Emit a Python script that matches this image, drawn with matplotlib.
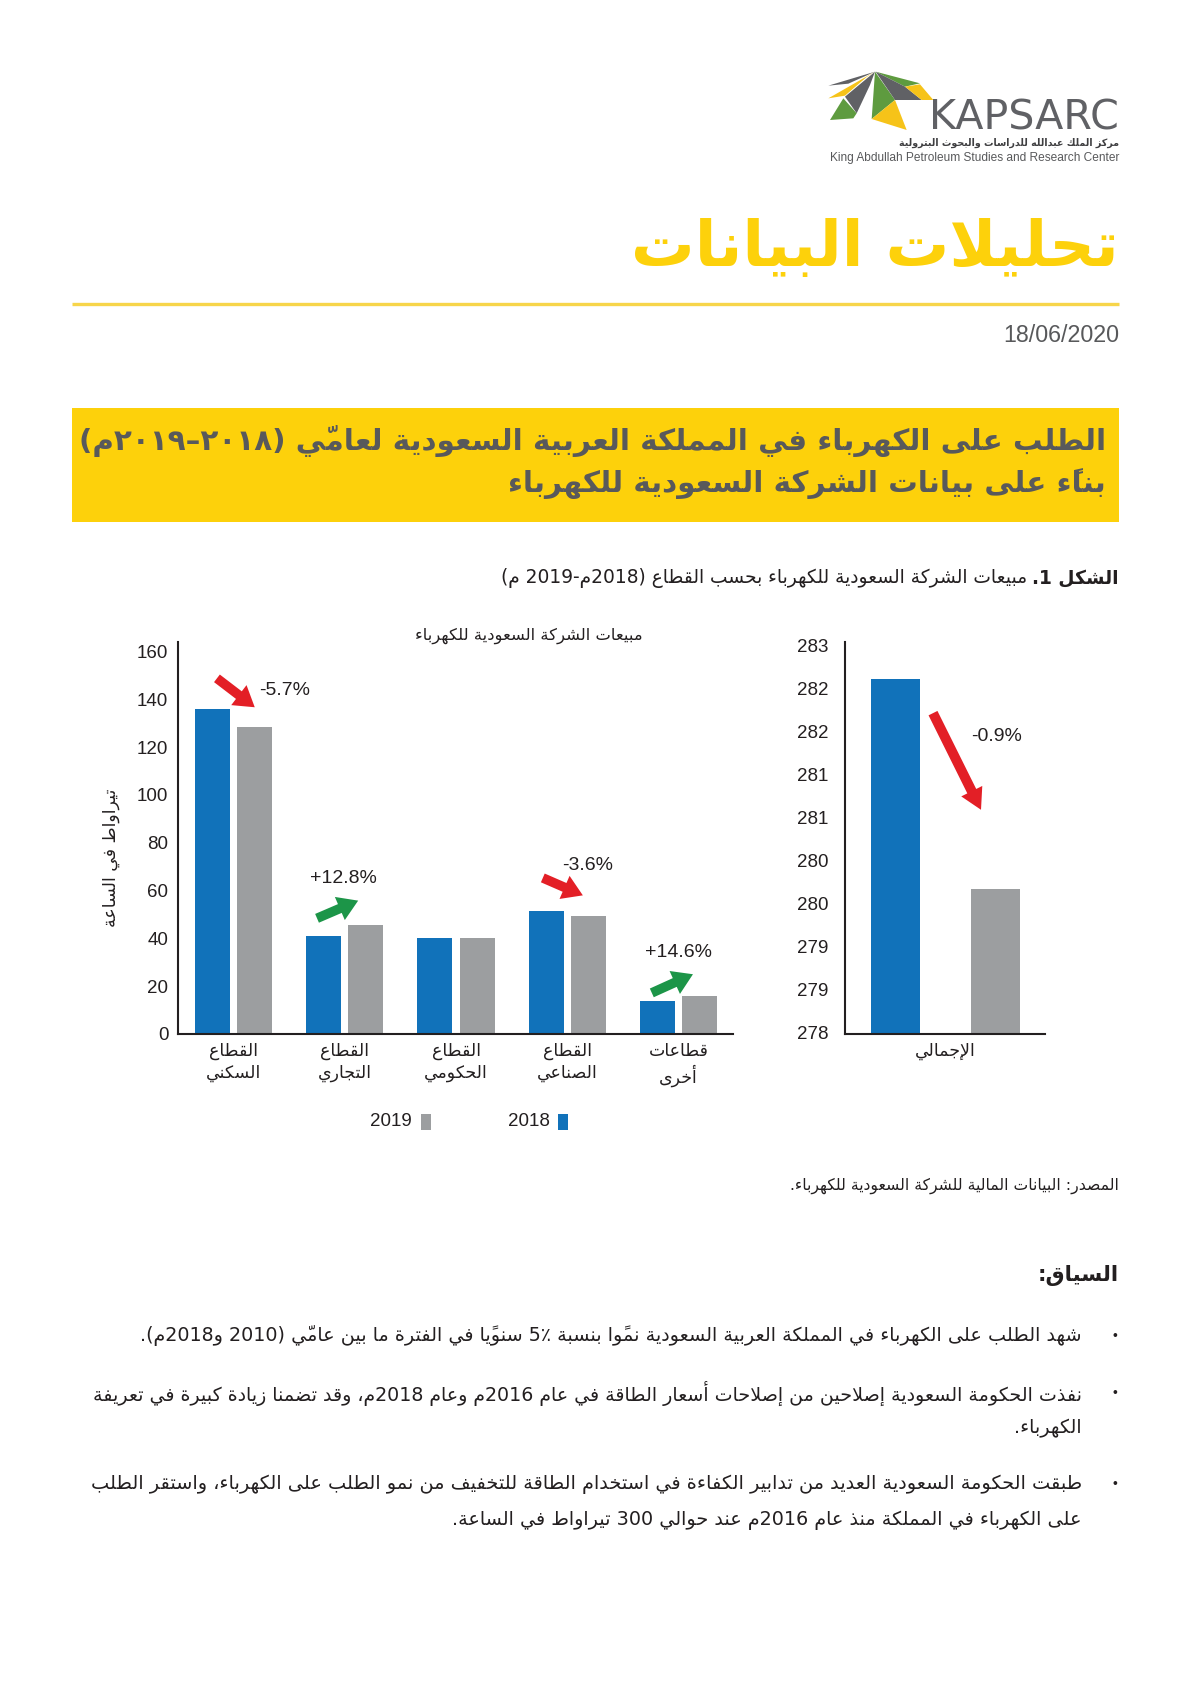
import matplotlib
matplotlib.use('Agg')
import matplotlib.pyplot as plt
import numpy as np
from matplotlib.patches import Rectangle, Polygon, FancyArrowPatch

# ---------------- data ----------------
sectors = ['القطاع\nالسكني', 'القطاع\nالتجاري', 'القطاع\nالحكومي', 'القطاع\nالصناعي', 'قطاعات\nأخرى']
sales_2018 = [136.1, 41.0, 40.0, 51.5, 13.9]
sales_2019 = [128.3, 45.8, 40.0, 49.5, 16.0]
change_labels = ['-5.7%', '+12.8%', None, '-3.6%', '+14.6%']
left_ticks = [0, 20, 40, 60, 80, 100, 120, 140, 160]
total_label = 'الإجمالي'
total_2018 = 282.57
total_2019 = 279.86
total_change = '-0.9%'
right_tick_values = list(np.linspace(278, 283, 10))
right_tick_labels = ['278', '279', '279', '280', '280', '281', '281', '282', '282', '283']
years = ['2018', '2019']

page_title = 'تحليلات البيانات'
date_text = '18/06/2020'
banner_lines = ['الطلب على الكهرباء في المملكة العربية السعودية لعاميّ (٢٠١٨–٢٠١٩م)',
                'بناءً على بيانات الشركة السعودية للكهرباء']
caption_bold = 'الشكل 1.'
caption_text = 'مبيعات الشركة السعودية للكهرباء بحسب القطاع (2018م-2019 م)'
chart_title = 'مبيعات الشركة السعودية للكهرباء'
y_label = 'تيراواط في الساعة'
source_text = 'المصدر: البيانات المالية للشركة السعودية للكهرباء.'
context_title = 'السياق:'
bullets = [
    ['شهد الطلب على الكهرباء في المملكة العربية السعودية نموًا بنسبة 5٪ سنويًا في الفترة ما بين عاميّ (2010 و2018م).'],
    ['نفذت الحكومة السعودية إصلاحين من إصلاحات أسعار الطاقة في عام 2016م وعام 2018م، وقد تضمنا زيادة كبيرة في تعريفة',
     'الكهرباء.'],
    ['طبقت الحكومة السعودية العديد من تدابير الكفاءة في استخدام الطاقة للتخفيف من نمو الطلب على الكهرباء، واستقر الطلب',
     'على الكهرباء في المملكة منذ عام 2016م عند حوالي 300 تيراواط في الساعة.'],
]
logo_name = 'KAPSARC'
logo_ar = 'مركز الملك عبدالله للدراسات والبحوث البترولية'
logo_en = 'King Abdullah Petroleum Studies and Research Center'

# ---------------- Arabic shaping + simple bidi ----------------
_F = {0x0621: (0xFE80, None, None, None), 0x0622: (0xFE81, 0xFE82, None, None),
      0x0623: (0xFE83, 0xFE84, None, None), 0x0624: (0xFE85, 0xFE86, None, None),
      0x0625: (0xFE87, 0xFE88, None, None), 0x0627: (0xFE8D, 0xFE8E, None, None),
      0x0629: (0xFE93, 0xFE94, None, None), 0x062F: (0xFEA9, 0xFEAA, None, None),
      0x0630: (0xFEAB, 0xFEAC, None, None), 0x0631: (0xFEAD, 0xFEAE, None, None),
      0x0632: (0xFEAF, 0xFEB0, None, None), 0x0648: (0xFEED, 0xFEEE, None, None),
      0x0649: (0xFEEF, 0xFEF0, None, None)}
for _c, _b in [(0x0626, 0xFE89), (0x0628, 0xFE8F), (0x062A, 0xFE95), (0x062B, 0xFE99),
               (0x062C, 0xFE9D), (0x062D, 0xFEA1), (0x062E, 0xFEA5), (0x0633, 0xFEB1),
               (0x0634, 0xFEB5), (0x0635, 0xFEB9), (0x0636, 0xFEBD), (0x0637, 0xFEC1),
               (0x0638, 0xFEC5), (0x0639, 0xFEC9), (0x063A, 0xFECD), (0x0641, 0xFED1),
               (0x0642, 0xFED5), (0x0643, 0xFED9), (0x0644, 0xFEDD), (0x0645, 0xFEE1),
               (0x0646, 0xFEE5), (0x0647, 0xFEE9), (0x064A, 0xFEF1)]:
    _F[_c] = (_b, _b + 1, _b + 2, _b + 3)
_LA = {0x0622: (0xFEF5, 0xFEF6), 0x0623: (0xFEF7, 0xFEF8), 0x0625: (0xFEF9, 0xFEFA), 0x0627: (0xFEFB, 0xFEFC)}


def _mark(c):
    o = ord(c)
    return 0x064B <= o <= 0x065F or o == 0x0670 or 0x0610 <= o <= 0x061A


def _jn(c):
    o = ord(c)
    return o == 0x0640 or (o in _F and _F[o][2] is not None)


def _jp(c):
    o = ord(c)
    return o == 0x0640 or (o in _F and _F[o][1] is not None)


def shape(s):
    ch = list(s)
    n = len(ch)
    out = []
    i = 0
    while i < n:
        c = ch[i]
        o = ord(c)
        if o not in _F:
            out.append(c)
            i += 1
            continue
        j = i - 1
        while j >= 0 and _mark(ch[j]):
            j -= 1
        cp = j >= 0 and _jn(ch[j]) and _F[o][1] is not None
        k = i + 1
        while k < n and _mark(ch[k]):
            k += 1
        nxt = ch[k] if k < n else None
        if o == 0x0644 and nxt is not None and ord(nxt) in _LA:
            out.append(chr(_LA[ord(nxt)][1 if cp else 0]))
            out.extend(ch[i + 1:k])
            i = k + 1
            continue
        cn = nxt is not None and _jp(nxt) and _jn(c)
        f = _F[o]
        if cp and cn:
            g = f[3]
        elif cp:
            g = f[1]
        elif cn:
            g = f[2]
        else:
            g = f[0]
        out.append(chr(g))
        i += 1
    return ''.join(out)


def _type(c):
    o = ord(c)
    if '0' <= c <= '9' or 0x0660 <= o <= 0x0669 or 0x06F0 <= o <= 0x06F9:
        return 'EN'
    if c.isascii() and c.isalpha():
        return 'L'
    if (0x0600 <= o <= 0x06FF and o not in (0x060C, 0x066A, 0x066B, 0x066C)) or 0xFB50 <= o <= 0xFDFF or 0xFE70 <= o <= 0xFEFF:
        return 'R'
    return 'N'


_MIR = {'(': ')', ')': '(', '[': ']', ']': '[', '{': '}', '}': '{', '<': '>', '>': '<'}


def bidi(s):
    n = len(s)
    t = [_type(c) for c in s]
    for i in range(1, n - 1):
        if t[i] == 'N' and s[i] in '.,/:-+' and t[i - 1] == 'EN' and t[i + 1] == 'EN':
            t[i] = 'EN'
    for i in range(n):
        if s[i] in '%\u066A':
            if (i > 0 and t[i - 1] == 'EN') or (i + 1 < n and t[i + 1] == 'EN'):
                t[i] = 'EN'
    r = t[:]
    i = 0
    while i < n:
        if r[i] == 'N':
            j = i
            while j < n and r[j] == 'N':
                j += 1
            lt = ('L' if r[i - 1] == 'L' else 'R') if i > 0 else 'R'
            rt = ('L' if r[j] == 'L' else 'R') if j < n else 'R'
            d = lt if lt == rt else 'R'
            for k in range(i, j):
                r[k] = d
            i = j
        else:
            i += 1
    runs = []
    for c, d in zip(s, r):
        d2 = 'R' if d == 'R' else 'L'
        if runs and runs[-1][0] == d2:
            runs[-1][1].append(c)
        else:
            runs.append([d2, [c]])
    out = []
    for d, cs in reversed(runs):
        if d == 'R':
            clusters = []
            for c in cs:
                if _mark(c) and clusters:
                    clusters[-1] += c
                else:
                    clusters.append(_MIR.get(c, c))
            out.append(''.join(reversed(clusters)))
        else:
            out.append(''.join(cs))
    return ''.join(out)


def ar(s):
    return '\n'.join(bidi(shape(line)) for line in s.split('\n'))


# ---------------- figure ----------------
W, H = 1191, 1684
fig = plt.figure(figsize=(W / 100, H / 100), dpi=100)
bg = fig.add_axes([0, 0, 1, 1])
bg.set_xlim(0, W)
bg.set_ylim(H, 0)
bg.axis('off')
REN = fig.canvas.get_renderer()

AR = ['DejaVu Sans']
LAT = ['Liberation Sans', 'DejaVu Sans']
DARK = '#58595B'
INK = '#231F20'
YEL = '#FDD10B'
BLUE = '#1172BA'
GRAY = '#9C9EA0'
RED = '#E31F26'
GREEN = '#1C9548'
RM = 1119   # right margin
LM = 72     # left margin


def fitw(t, w):
    bb = t.get_window_extent(renderer=REN)
    t.set_fontsize(t.get_fontsize() * w / bb.width)
    return t


# logo (decorative shapes)
def lp(pts):
    return [(825 + px / 3.0, 65 + py / 3.0) for px, py in pts]

LG, LY, LN = '#606165', '#F6C319', '#5E9B3F'
logo_shapes = [
    ([(10, 62), (150, 20), (70, 56)], LG),
    ([(10, 100), (150, 20), (125, 36), (60, 92)], LY),
    ([(150, 20), (60, 95), (95, 145), (135, 60)], LG),
    ([(55, 100), (15, 165), (85, 160), (95, 145)], LN),
    ([(150, 20), (140, 162), (210, 105)], LN),
    ([(140, 162), (210, 105), (245, 195)], LY),
    ([(152, 20), (285, 55), (240, 65)], LN),
    ([(152, 20), (240, 65), (290, 105), (210, 105)], LG),
    ([(240, 65), (285, 58), (325, 105), (290, 105)], LY),
]
for pts, col in logo_shapes:
    bg.add_patch(Polygon(lp(pts), closed=True, facecolor=col, edgecolor='none'))
t = bg.text(RM, 118, logo_name, ha='right', va='center', fontsize=22, color='#606165',
            family=['DejaVu Sans'])
fitw(t, 190)
t = bg.text(RM, 143, ar(logo_ar), ha='right', va='center', fontsize=9, color='#3f3f41',
            family=AR, fontweight='bold')
fitw(t, 222)
t = bg.text(RM, 158, logo_en, ha='right', va='center', fontsize=9, color=DARK, family=LAT)
fitw(t, 290)

# title + rule + date
t = bg.text(RM, 249, ar(page_title), ha='right', va='center', fontsize=40, color=YEL,
            family=AR, fontweight='bold')
fitw(t, 487)
bg.plot([LM, RM], [304, 304], color='#F7D54A', lw=2.4, solid_capstyle='butt')
t = bg.text(RM, 335, date_text, ha='right', va='center', fontsize=15, color=DARK, family=LAT)
fitw(t, 117)

# banner
bg.add_patch(Rectangle((LM, 408), RM - LM, 114, facecolor=YEL, edgecolor='none'))
t1 = bg.text(1106, 441, ar(banner_lines[0]), ha='right', va='center', fontsize=20, color=DARK,
             family=AR, fontweight='bold')
fitw(t1, 1022)
bg.text(1106, 484, ar(banner_lines[1]), ha='right', va='center', fontsize=t1.get_fontsize(),
        color=DARK, family=AR, fontweight='bold')

# caption
tb = bg.text(RM, 578, ar(caption_bold), ha='right', va='center', fontsize=14, color=INK,
             family=AR, fontweight='bold')
tr = bg.text(1000, 578, ar(caption_text), ha='right', va='center', fontsize=14, color=INK,
             family=AR)
wb = tb.get_window_extent(renderer=REN).width
wr = tr.get_window_extent(renderer=REN).width
sc = 623 / (wb + wr + 6)
tb.set_fontsize(14 * sc)
tr.set_fontsize(14 * sc)
wb = tb.get_window_extent(renderer=REN).width
tr.set_x(RM - wb - 6 * sc)

# ---------------- left chart ----------------
axb, axt = (H - 1034) / H, (H - 642) / H
ax = fig.add_axes([178 / W, axb, (733 - 178) / W, axt - axb])
x = np.arange(len(sectors))
ax.bar(x - 0.19, sales_2018, 0.315, color=BLUE, zorder=2)
ax.bar(x + 0.19, sales_2019, 0.315, color=GRAY, zorder=2)
ax.set_xlim(-0.5, 4.49)
ax.set_ylim(0, 164)
ax.set_yticks(left_ticks)
ax.set_yticklabels([str(v) for v in left_ticks], family=LAT, fontsize=13.5, color=INK)
ax.set_xticks(x)
ax.set_xticklabels([ar(s) for s in sectors], family=AR, fontsize=12.5, color=INK,
                   linespacing=1.25)
ax.tick_params(axis='y', length=0, pad=7)
ax.tick_params(axis='x', length=0, pad=6)
for sp in ['top', 'right']:
    ax.spines[sp].set_visible(False)
for sp in ['left', 'bottom']:
    ax.spines[sp].set_linewidth(1.5)
    ax.spines[sp].set_color(INK)
ax.patch.set_alpha(0)

# change arrows (layout offsets relative to the 2019 bar centre / top)
arrow_layout = {0: dict(tip=(0.0, 8.4), tail=(-0.34, 12.1), lab=(0.27, 7.1)),
                1: dict(tip=(-0.07, 10), tail=(-0.37, -7.4), lab=(-0.13, 9.2)),
                3: dict(tip=(-0.05, 8.5), tail=(-0.36, 7.3), lab=(0.04, 12.5)),
                4: dict(tip=(-0.06, 9), tail=(-0.37, -7.8), lab=(-0.13, 9.1))}
for i, lab in enumerate(change_labels):
    if lab is None:
        continue
    L = arrow_layout[i]
    tip = (x[i] + 0.19 + L['tip'][0], sales_2019[i] + L['tip'][1])
    tail = (tip[0] + L['tail'][0], tip[1] + L['tail'][1])
    col = RED if lab.startswith('-') else GREEN
    ax.add_patch(FancyArrowPatch(tail, tip, arrowstyle='simple,head_length=1.15,head_width=1.45,tail_width=0.55',
                                 mutation_scale=12.5, color=col, lw=0, zorder=3, shrinkA=0, shrinkB=0))
    ax.text(tip[0] + L['lab'][0], tip[1] + L['lab'][1], lab, ha='center', va='center',
            fontsize=14, family=LAT, color=INK)

# chart title, y label, legend
t = bg.text(529, 636, ar(chart_title), ha='center', va='center', fontsize=11, color=INK, family=AR)
fitw(t, 227)
bg.text(111, 858, ar(y_label), ha='center', va='center', rotation=90, fontsize=12.5,
        color=INK, family=AR)
leg_items = [(years[1], GRAY, 412, 421), (years[0], BLUE, 550, 558)]
for lab, col, tx, rx in leg_items:
    bg.text(tx, 1122, lab, ha='right', va='center', fontsize=13.5, family=LAT, color=INK)
    bg.add_patch(Rectangle((rx, 1114), 10, 16, facecolor=col, edgecolor='none'))

# ---------------- right chart ----------------
ax2 = fig.add_axes([845 / W, axb, (1045 - 845) / W, axt - axb])
ax2.bar([0, 1], [total_2018, total_2019], 0.49, color=[BLUE, GRAY], zorder=2)
ax2.set_xlim(-0.5, 1.5)
ax2.set_ylim(277.98, 283.05)
ax2.set_yticks(right_tick_values)
ax2.set_yticklabels(right_tick_labels, family=LAT, fontsize=13.5, color=INK)
ax2.set_xticks([0.5])
ax2.set_xticklabels([ar(total_label)], family=AR, fontsize=12.5, color=INK)
ax2.tick_params(axis='y', length=0, pad=12)
ax2.tick_params(axis='x', length=0, pad=6)
for sp in ['top', 'right']:
    ax2.spines[sp].set_visible(False)
for sp in ['left', 'bottom']:
    ax2.spines[sp].set_linewidth(1.5)
    ax2.spines[sp].set_color(INK)
ax2.patch.set_alpha(0)
tip2 = (0.86, total_2019 + 1.02)
tail2 = (0.38, total_2018 - 0.44)
ax2.add_patch(FancyArrowPatch(tail2, tip2, arrowstyle='simple,head_length=1.15,head_width=1.3,tail_width=0.55',
                              mutation_scale=13, color=RED, lw=0, zorder=3, shrinkA=0, shrinkB=0))
ax2.text(1.02, total_2018 - 0.74, total_change, ha='center', va='center', fontsize=14,
         family=LAT, color=INK)

# ---------------- text below ----------------
t = bg.text(RM, 1186, ar(source_text), ha='right', va='center', fontsize=10, color=INK, family=AR)
fitw(t, 328)
t = bg.text(RM, 1276, ar(context_title), ha='right', va='center', fontsize=14, color=INK,
            family=AR, fontweight='bold')
fitw(t, 82)

TXR = 1082
line_y = [[1336], [1393, 1428], [1484, 1520]]
base = bg.text(TXR, line_y[0][0], ar(bullets[0][0]), ha='right', va='center', fontsize=13,
               color=INK, family=AR)
fitw(base, TXR - 145)
fs = base.get_fontsize()
for bi, lines in enumerate(bullets):
    bg.text(1115, line_y[bi][0], '•', ha='center', va='center', fontsize=10, color=INK, family=LAT)
    for li, line in enumerate(lines):
        if bi == 0:
            continue
        t = bg.text(TXR, line_y[bi][li], ar(line), ha='right', va='center', fontsize=fs,
                    color=INK, family=AR)
        if li == 0:
            fitw(t, TXR - 92)

fig.savefig('out.png', dpi=100)
